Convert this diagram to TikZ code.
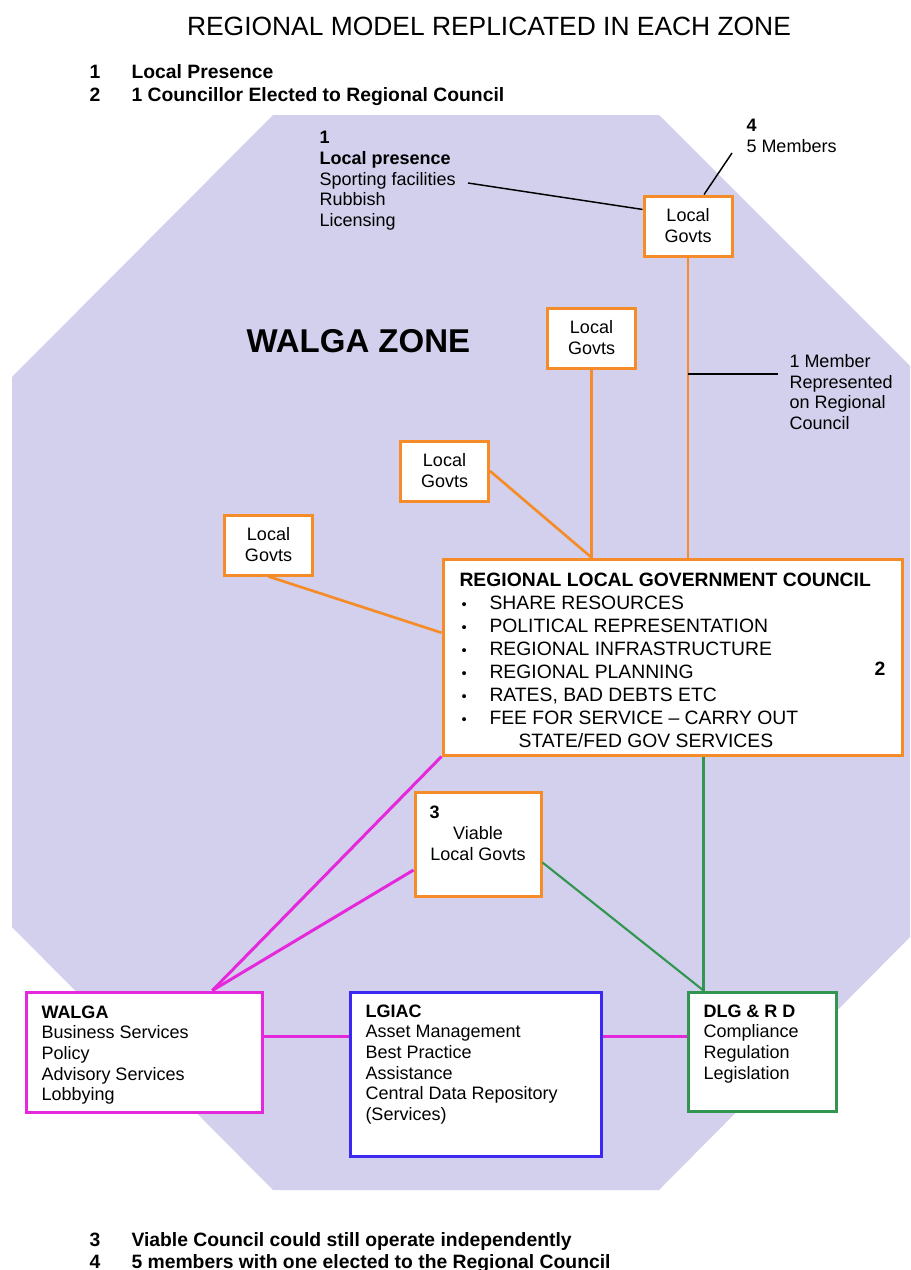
\documentclass[tikz,border=0pt]{standalone}
\usepackage{fontspec}
\setmainfont{Liberation Sans}

\definecolor{zonefill}{RGB}{210,208,236}
\definecolor{lgorange}{RGB}{245,140,40}
\definecolor{walgapink}{RGB}{230,40,220}
\definecolor{lgiacblue}{RGB}{60,40,240}
\definecolor{dlggreen}{RGB}{50,150,80}

\newcommand{\rlgcbullet}{\makebox[22.5pt][l]{\hspace{1.5pt}\fontsize{11}{11}\selectfont\textbullet}}

\tikzset{every picture/.style={line width=0.75pt}}
\tikzset{
  govbox/.style={draw=lgorange, line width=2.25pt, fill=white, align=center, inner sep=0pt, minimum width=66pt, minimum height=45pt, font=\fontsize{13.5}{15.75}\selectfont},
  txt/.style={inner sep=0.75pt, align=left, font=\fontsize{13.5}{15.5}\selectfont},
  keytxt/.style={anchor=base west, inner sep=0.75pt, font=\bfseries\fontsize{14.5}{16}\selectfont},
  orangeline/.style={draw=lgorange, line width=2pt},
  pinkline/.style={draw=walgapink, line width=2.25pt},
  greenline/.style={draw=dlggreen, line width=1.6pt},
  blackline/.style={draw=black, line width=1.1pt}
}

\begin{document}
\begin{tikzpicture}[x=0.75pt,y=0.75pt,yscale=-1,xscale=1]
\useasboundingbox (0,0) rectangle (910,1270);

%Shape: Octagon
\fill[zonefill] (273,115) -- (659,115) -- (910,366) -- (910,937) -- (659,1190) -- (273,1190) -- (12,927) -- (12,377) -- cycle ;

% Text Node
\node[anchor=base, inner sep=0.75pt, font=\fontsize{19.8}{23}\selectfont] (title) at (489,36) {REGIONAL MODEL REPLICATED IN EACH ZONE};
% Text Node
\node[keytxt] (num1) at (88,79) {1};
\node[keytxt] (key1) at (130,79) {Local Presence};
\node[keytxt] (num2) at (88,102) {2};
\node[keytxt] (key2) at (130,102) {1 Councillor Elected to Regional Council};
\node[keytxt] (num3) at (88,1246) {3};
\node[keytxt] (key3) at (130,1246) {Viable Council could still operate independently};
\node[keytxt] (num4) at (88,1268) {4};
\node[keytxt] (key4) at (130,1268) {5 members with one elected to the Regional Council};

% Text Node
\node[anchor=base west, inner sep=0.75pt, font=\bfseries\fontsize{24.75}{28}\selectfont] (zone) at (245,352) {WALGA ZONE};

% Text Node
\node[txt, anchor=north west] (presence) at (318,130) {\textbf{1}\\\textbf{Local presence}\\Sporting facilities\\Rubbish\\Licensing};
% Text Node
\node[txt, anchor=north west] (members) at (745,118) {\textbf{4}\\5 Members};
% Text Node
\node[txt, anchor=north west] (represented) at (788,353) {1 Member\\Represented\\on Regional\\Council};

%Shape: Rectangle
\node[govbox] (lg1) at (688,226) {Local\\Govts};
\node[govbox] (lg2) at (591.5,338) {Local\\Govts};
\node[govbox] (lg3) at (444.5,471) {Local\\Govts};
\node[govbox] (lg4) at (268.5,545) {Local\\Govts};

%Shape: Rectangle
\node[govbox, minimum width=344.25pt, minimum height=147pt] (council) at (672.5,657) {};
% Text Node
\node[txt, anchor=north west, font=\fontsize{14.5}{17.25}\selectfont] (councillist) at (458,571) {\textbf{REGIONAL LOCAL GOVERNMENT COUNCIL}\\
\rlgcbullet SHARE RESOURCES\\
\rlgcbullet POLITICAL REPRESENTATION\\
\rlgcbullet REGIONAL INFRASTRUCTURE\\
\rlgcbullet REGIONAL PLANNING\\
\rlgcbullet RATES, BAD DEBTS ETC\\
\rlgcbullet FEE FOR SERVICE -- CARRY OUT\\
\hspace*{44.25pt}STATE/FED GOV SERVICES};
% Text Node
\node[anchor=base west, inner sep=0.75pt, font=\bfseries\fontsize{14.5}{17}\selectfont] (council2) at (873,675) {2};

%Shape: Rectangle
\node[govbox, minimum width=94.5pt, minimum height=78pt] (viable) at (478,844) {Viable\\Local Govts};
% Text Node
\node[anchor=north west, inner sep=0.75pt, font=\bfseries\fontsize{13.5}{15.5}\selectfont] (viable3) at (428,804) {3};

%Shape: Rectangle
\node[draw=walgapink, line width=2.25pt, fill=white, minimum width=177pt, minimum height=90pt] (walga) at (144,1052) {};
\node[draw=lgiacblue, line width=2.25pt, fill=white, minimum width=188.25pt, minimum height=123pt] (lgiac) at (475.5,1074) {};
\node[draw=dlggreen, line width=2.25pt, fill=white, minimum width=111pt, minimum height=89.25pt] (dlg) at (762,1051.5) {};
% Text Node
\node[txt, anchor=north west] (walgatxt) at (40,1004) {\textbf{WALGA}\\Business Services\\Policy\\Advisory Services\\Lobbying};
\node[txt, anchor=north west] (lgiactxt) at (364,1003) {\textbf{LGIAC}\\Asset Management\\Best Practice\\Assistance\\Central Data Repository\\(Services)};
\node[txt, anchor=north west] (dlgtxt) at (702,1003) {\textbf{DLG \& R D}\\Compliance\\Regulation\\Legislation};

\coordinate (sportsend) at (468,183);
\coordinate (membersend) at (732,153);
\coordinate (memberend) at (778,374);
\coordinate (busline) at (0,1036.5);
\coordinate (greenx) at (703.5,0);

%Straight Lines
\draw[blackline] (sportsend) -- (lg1.160);
\draw[blackline] (membersend) -- (lg1.63);
\draw[orangeline] (lg1.south) -- (lg1.south |- council.north);
\draw[blackline] (memberend) -- (memberend -| lg1.south);
\draw[orangeline] (lg2.south) -- (lg2.south |- council.north);
\draw[orangeline] (lg3.east) -- (lg2.south |- council.north);
\draw[orangeline] (lg4.south) -- (council.174);

%Straight Lines
\draw[pinkline] (walga.42) -- (council.south west);
\draw[pinkline] (walga.42) -- (viable.202);
\draw[pinkline] (walga.east |- busline) -- (lgiac.west |- busline);
\draw[pinkline] (lgiac.east |- busline) -- (dlg.west |- busline);
\draw[greenline] (greenx |- council.south) -- (greenx |- dlg.north);
\draw[greenline] (viable.-16) -- (greenx |- dlg.north);

\end{tikzpicture}
\end{document}
